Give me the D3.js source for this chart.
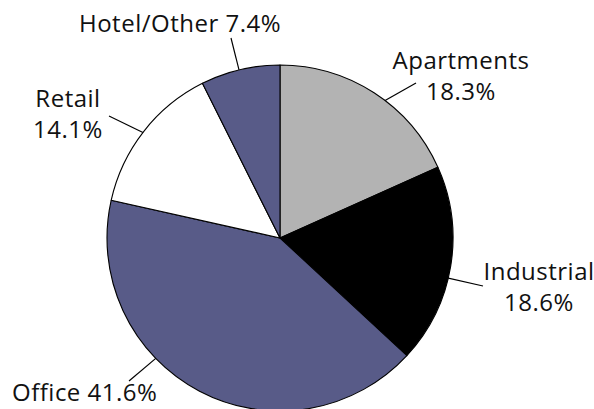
<!DOCTYPE html>
<html>
<head>
<meta charset="utf-8">
<script src="https://cdn.jsdelivr.net/npm/d3@7"></script>
<style>
  html, body { margin: 0; padding: 0; background: #fff; }
  svg { display: block; }
  .slice-label { font-family: "Open Sans", "Noto Sans", sans-serif; font-size: 24px; letter-spacing: 0.5px; fill: #111; }
</style>
</head>
<body>
<div id="chart"></div>
<script>
// Data, clockwise from 12 o'clock
const categories = ['Apartments', 'Industrial', 'Office', 'Retail', 'Hotel/Other'];
const shares = [18.3, 18.6, 41.6, 14.1, 7.4];
const sliceColors = ['#b3b3b3', '#000000', '#585b88', '#ffffff', '#585b88'];

// Label layout (relative to pie centre): leader angle on the rim,
// leader end point, text position and line split
const labelLayout = [
  { angle: 37.4, end: [136, -155], text: [181, -169], anchor: 'middle', lines: 2 },
  { angle: 103.4, end: [203, 48], text: [259, 42], anchor: 'middle', lines: 2 },
  { angle: 225.9, end: [-151, 143], text: [-268, 163], anchor: 'start', lines: 1 },
  { angle: 307.6, end: [-171, -122], text: [-212, -131], anchor: 'middle', lines: 2 },
  { angle: 346.3, end: [-49, -200], text: [-100, -206], anchor: 'middle', lines: 1 },
];

const width = 594;
const height = 409;
const cx = 280;
const cy = 238;
const radius = 173;
const lineGap = 31;

const svg = d3.select('#chart').append('svg').attr('width', width).attr('height', height);
const g = svg.append('g').attr('transform', `translate(${cx}, ${cy})`);

const data = categories.map((name, i) => ({ name, value: shares[i], color: sliceColors[i] }));

const pie = d3.pie().value((d) => d.value).sort(null);
const arc = d3.arc().innerRadius(0).outerRadius(radius);

g.selectAll('.slice')
  .data(pie(data))
  .enter()
  .append('path')
  .attr('class', 'slice')
  .attr('d', arc)
  .attr('fill', (d) => d.data.color)
  .attr('stroke', '#000')
  .attr('stroke-width', 1.1)
  .attr('stroke-linejoin', 'round');

// Leader lines
const rim = (deg) => {
  const a = (deg * Math.PI) / 180;
  return [radius * Math.sin(a), -radius * Math.cos(a)];
};

g.selectAll('.leader')
  .data(labelLayout)
  .enter()
  .append('line')
  .attr('class', 'leader')
  .attr('x1', (d) => rim(d.angle)[0])
  .attr('y1', (d) => rim(d.angle)[1])
  .attr('x2', (d) => d.end[0])
  .attr('y2', (d) => d.end[1])
  .attr('stroke', '#000')
  .attr('stroke-width', 1.2);

// Labels
data.forEach((d, i) => {
  const lay = labelLayout[i];
  const pct = d.value.toFixed(1) + '%';
  const rows = lay.lines === 2 ? [d.name, pct] : [d.name + ' ' + pct];
  const t = g.append('text')
    .attr('class', 'slice-label')
    .attr('text-anchor', lay.anchor)
    .attr('x', lay.text[0])
    .attr('y', lay.text[1]);
  rows.forEach((row, k) => {
    t.append('tspan')
      .attr('x', lay.text[0])
      .attr('y', lay.text[1] + k * lineGap)
      .text(row);
  });
});
</script>
</body>
</html>
